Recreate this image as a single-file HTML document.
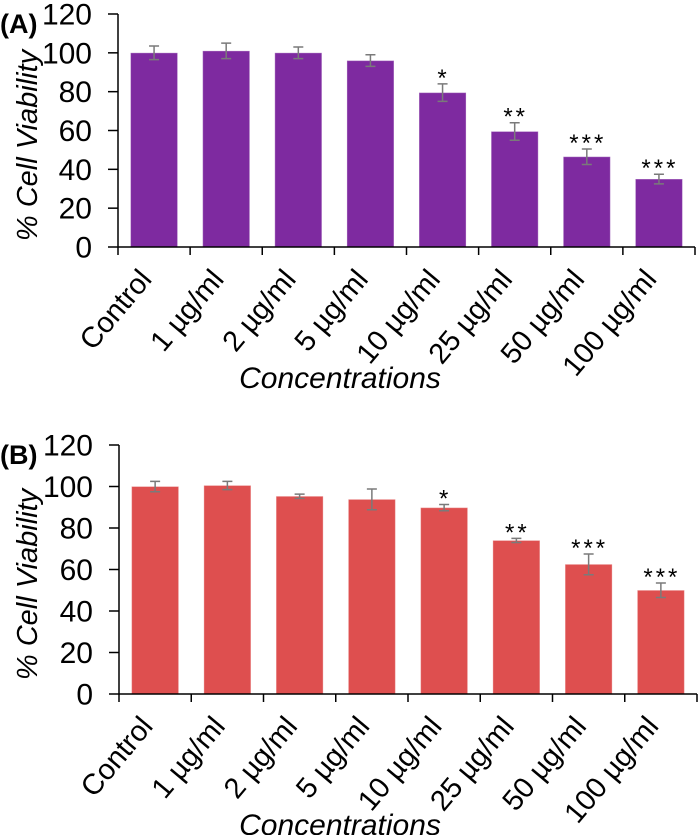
<!DOCTYPE html>
<html><head><meta charset="utf-8"><style>
body{margin:0;background:#fff}
svg{display:block;font-family:"Liberation Sans",Arial,sans-serif}
</style></head><body>
<svg id="c" width="699" height="835"></svg>
<script>
const categories=["Control","1 µg/ml","2 µg/ml","5 µg/ml","10 µg/ml","25 µg/ml","50 µg/ml","100 µg/ml"];
const valuesA=[100,101,100,96,79.5,59.5,46.5,35];
const errorsA=[3.5,4,3,3,4.5,4.5,4,2.5];
const starsA=["","","","","*","**","***","***"];
const valuesB=[100,100.5,95.3,93.8,89.8,74,62.5,50];
const errorsB=[2.5,2,1,5,1.5,1,5,3.5];
const starsB=["","","","","*","**","***","***"];
const yTicks=[0,20,40,60,80,100,120];
const NS="http://www.w3.org/2000/svg";
const svg=document.getElementById('c');
function mk(t,a,p,txt){const e=document.createElementNS(NS,t);for(const k in a)e.setAttribute(k,a[k]);if(txt!==undefined)e.textContent=txt;(p||svg).appendChild(e);return e;}
function panel(id,letter,vals,errs,stars,color,x0,x1,yTop,yBot){
  const g=mk('g',{});
  
  
  const ys=v=>yBot-(v/120)*(yBot-yTop);
  const bw=(x1-x0)/categories.length;
  const xc=i=>x0+bw*(i+0.5);
  const lt=mk('text',{x:0,y:yTop+19,'font-size':27,'font-weight':'bold'},g,letter);
  
  
  vals.forEach((v,i)=>{
    const r=mk('rect',{x:xc(i)-23.5,y:ys(v),width:47,height:yBot-ys(v),fill:color,stroke:'rgba(255,255,255,0.35)','stroke-width':1},g);
    
    
    const t=ys(v+errs[i]),b=ys(v-errs[i]);
    const eb=mk('path',{d:`M${xc(i)},${t}V${b}M${xc(i)-5},${t}H${xc(i)+5}M${xc(i)-5},${b}H${xc(i)+5}`,stroke:'#7a7a7a','stroke-width':1.5,fill:'none'},g);
    
    
    if(stars[i]){
      const s=mk('text',{x:xc(i)+1,y:t+2,'font-size':24,'text-anchor':'middle','letter-spacing':3},g,stars[i]);
      
      
    }
    const lx=xc(i)-1,ly=yBot+33;
    const l=mk('text',{x:lx,y:ly,'font-size':29,'text-anchor':'end',transform:`rotate(-50 ${lx} ${ly})`},g,categories[i]);
    
    
  });
  const ax=mk('path',{d:`M${x0},${yTop}V${yBot}H${x1}`,stroke:'#000','stroke-width':1.5,fill:'none'},g);
  
  
  yTicks.forEach(v=>{
    mk('line',{x1:x0-10,x2:x0,y1:ys(v),y2:ys(v),stroke:'#000','stroke-width':1.5},g);
    const t=mk('text',{x:x0-26,y:ys(v)+10.5,'font-size':30,'text-anchor':'end'},g,v);
    
    
  });
  for(let i=0;i<=categories.length;i++){
    mk('line',{x1:x0+bw*i,x2:x0+bw*i,y1:yBot,y2:yBot+8,stroke:'#000','stroke-width':1.5},g);
  }
  const cy=(yTop+yBot)/2+15;
  const yt=mk('text',{x:37,y:cy,'font-size':29,'font-style':'italic','text-anchor':'middle',transform:`rotate(-90 37 ${cy})`},g,'% Cell Viability');
  
  
  const xt=mk('text',{x:340,y:yBot+141,'font-size':30,'font-style':'italic','text-anchor':'middle'},g,'Concentrations');
  
  
}
panel('a','(A)',valuesA,errorsA,starsA,'#7e2aa0',118,695,14,247);
panel('b','(B)',valuesB,errorsB,starsB,'#de4f4f',119,697,445,694);
</script>
</body></html>
